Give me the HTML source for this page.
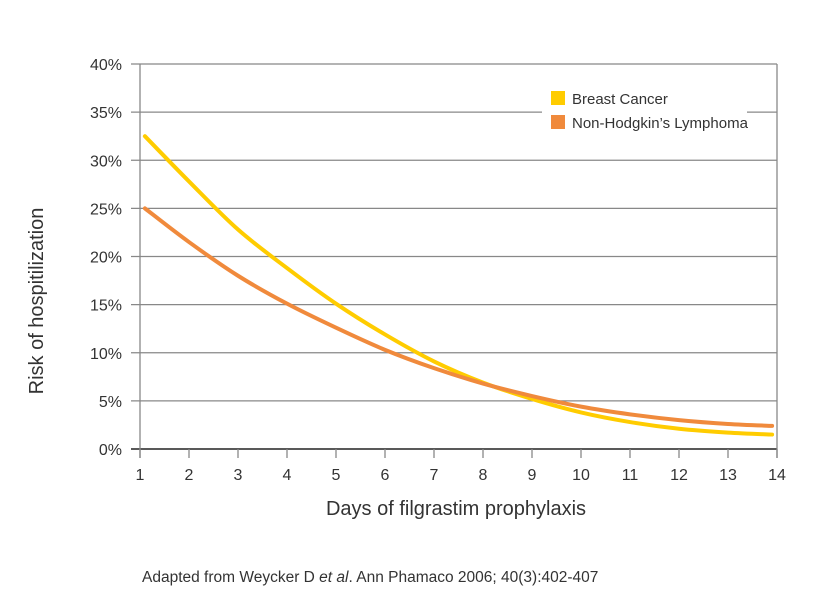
<!DOCTYPE html>
<html><head><meta charset="utf-8"><style>
body{margin:0;background:#fff;font-family:"Liberation Sans",sans-serif;}
svg text{font-family:"Liberation Sans",sans-serif;fill:#333;}
</style></head><body>
<svg width="823" height="605" id="c">
<g id="grid"></g><g id="series"></g>
<g>
<rect x="542" y="78" width="205" height="58" fill="#fff"/>
<rect x="551" y="91" width="14" height="14" fill="#ffcc00"/>
<text x="572" y="104" font-size="15">Breast Cancer</text>
<rect x="551" y="115" width="14" height="14" fill="#f08a3c"/>
<text x="572" y="128" font-size="15">Non-Hodgkin’s Lymphoma</text>
</g>
<text transform="translate(43,301) rotate(-90)" text-anchor="middle" font-size="20">Risk of hospitilization</text>
<text x="456" y="515" text-anchor="middle" font-size="20">Days of filgrastim prophylaxis</text>
<text x="142" y="582" font-size="15.5">Adapted from Weycker D <tspan font-style="italic">et al</tspan>. Ann Phamaco 2006; 40(3):402-407</text>
</svg>
<script>
const xTicks=[1,2,3,4,5,6,7,8,9,10,11,12,13,14];
const yTicks=[0,5,10,15,20,25,30,35,40];
const days=[1.1,2,3,4,5,6,7,8,9,10,11,12,13,13.9];
const breast=[32.5,27.8,22.8,18.8,15.1,11.9,9.1,6.9,5.2,3.8,2.8,2.1,1.7,1.5];
const nhl=[25,21.5,18,15.1,12.6,10.3,8.4,6.8,5.5,4.4,3.6,3.0,2.6,2.4];
const NS="http://www.w3.org/2000/svg";
const X=v=>140+(v-1)*49.0, Y=v=>449-v*9.625;
const grid=document.getElementById('grid'), ser=document.getElementById('series');
function mk(t,a,p){const e=document.createElementNS(NS,t);for(const k in a)e.setAttribute(k,a[k]);p.appendChild(e);return e;}
yTicks.forEach(v=>{
 const l=mk('line',{x1:131,x2:777,y1:Y(v),y2:Y(v),stroke:v===0?'#222':'#888','stroke-width':v===0?1.6:1.3},grid);
 
 
 const t=mk('text',{x:122,y:Y(v)+6,'text-anchor':'end','font-size':16},grid);t.textContent=v+'%';
 
 
});
const ax=mk('line',{x1:140,x2:140,y1:Y(40),y2:Y(0)+9,stroke:'#888','stroke-width':1.3},grid);


const ax2=mk('line',{x1:777,x2:777,y1:Y(40),y2:Y(0)+9,stroke:'#888','stroke-width':1.3},grid);


xTicks.forEach(v=>{
 const l=mk('line',{x1:X(v),x2:X(v),y1:Y(0),y2:Y(0)+9,stroke:'#888','stroke-width':1.3},grid);
 
 
 const t=mk('text',{x:X(v),y:480,'text-anchor':'middle','font-size':16},grid);t.textContent=v;
 
 
});
function path(xs,ys){const p=xs.map((x,i)=>[X(x),Y(ys[i])]);let d='M'+p[0];
 for(let i=0;i<p.length-1;i++){const p0=p[i-1]||p[i],p1=p[i],p2=p[i+1],p3=p[i+2]||p2;
  d+=' C'+(p1[0]+(p2[0]-p0[0])/6)+','+(p1[1]+(p2[1]-p0[1])/6)+' '+(p2[0]-(p3[0]-p1[0])/6)+','+(p2[1]-(p3[1]-p1[1])/6)+' '+p2;}
 return d;}
const b=mk('path',{d:path(days,breast),fill:'none',stroke:'#ffcc00','stroke-width':4,'stroke-linecap':'round'},ser);


const n=mk('path',{d:path(days,nhl),fill:'none',stroke:'#f08a3c','stroke-width':4,'stroke-linecap':'round'},ser);


</script>
</body></html>
